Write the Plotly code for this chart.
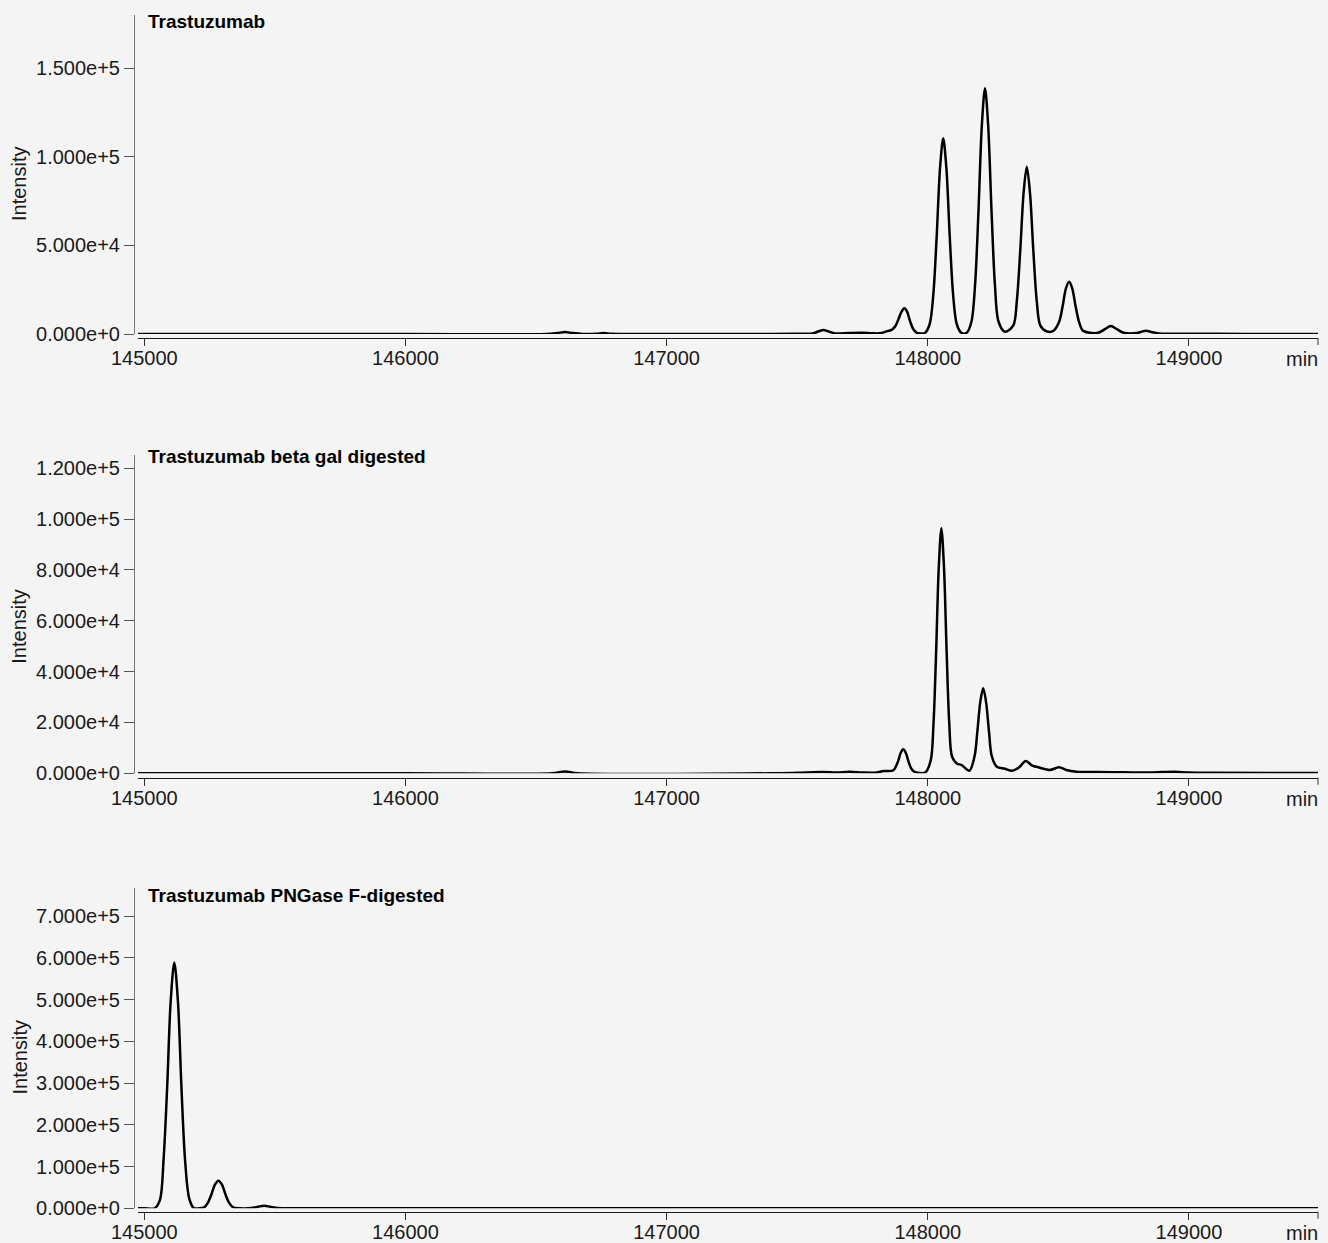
import plotly.graph_objects as go

# Deconvoluted intact-mass spectra, three samples (mass in Da vs. intensity)
titles = ["Trastuzumab", "Trastuzumab beta gal digested", "Trastuzumab PNGase F-digested"]

mass_intact = [
    144960, 145500, 146000, 146540, 146580, 146611, 146640, 146680, 146730, 146758,
    146790, 146850, 147400, 147500, 147560, 147580, 147600, 147620, 147645, 147700,
    147750, 147785, 147817, 147845, 147862, 147876, 147888, 147899, 147910, 147921,
    147932, 147944, 147958, 147975, 147989, 148007, 148021, 148034, 148047, 148059,
    148071, 148084, 148097, 148111, 148129, 148149, 148167, 148181, 148194, 148207,
    148219, 148231, 148244, 148257, 148271, 148295, 148327, 148341, 148354, 148367,
    148379, 148391, 148404, 148417, 148431, 148455, 148480, 148503, 148516, 148529,
    148541, 148553, 148566, 148579, 148593, 148620, 148655, 148678, 148701, 148724,
    148750, 148800, 148818, 148835, 148852, 148885, 148950, 149100, 149300, 149520,
]
int_intact = [
    0, 0, 0, 0, 500, 1100, 500, 0, 100, 600,
    100, 0, 0, 200, 300, 1400, 2300, 1400, 300, 600,
    700, 400, 400, 1600, 2300, 4500, 8500, 12500, 14500, 12500,
    7300, 2800, 600, 300, 600, 5500, 22000, 55000, 94000, 110400,
    94000, 55000, 22000, 5500, 600, 700, 6900, 27700, 69300, 118000,
    138650, 118000, 69300, 27700, 6900, 1300, 4700, 18900, 47200, 80000,
    94400, 80000, 47200, 18900, 4700, 1500, 1700, 6900, 15500, 25800,
    29500, 25800, 15500, 6900, 2000, 700, 800, 2700, 4500, 2700,
    700, 500, 1300, 1860, 1300, 300, 200, 100, 0, 0,
]

mass_betagal = [
    144960, 146000, 146560, 146611, 146660, 147400, 147500, 147600, 147650, 147700,
    147750, 147804, 147830, 147868, 147886, 147896, 147906, 147916, 147926, 147937,
    147950, 147990, 148011, 148022, 148032, 148042, 148052, 148062, 148072, 148082,
    148093, 148111, 148130, 148159, 148179, 148190, 148201, 148212, 148223, 148234,
    148245, 148264, 148295, 148323, 148350, 148375, 148400, 148423, 148450, 148468,
    148503, 148530, 148570, 148650, 148750, 148850, 148946, 149000, 149100, 149520,
]
int_betagal = [
    0, 0, 0, 700, 0, 0, 200, 500, 300, 600,
    300, 300, 900, 1200, 4700, 8000, 9440, 8000, 4700, 1800,
    600, 300, 5000, 20000, 48200, 81000, 96400, 81000, 48200, 20000,
    6500, 3900, 3200, 1000, 6700, 16700, 28100, 33450, 28100, 16700,
    6700, 2600, 1800, 1000, 2400, 4840, 3000, 2360, 1600, 1300,
    2360, 1300, 630, 500, 400, 300, 630, 300, 200, 100,
]

mass_pngase = [
    144940, 145000, 145040, 145060, 145074, 145088, 145101, 145115, 145129, 145142,
    145156, 145172, 145190, 145210, 145230, 145243, 145257, 145270, 145284, 145298,
    145311, 145325, 145340, 145365, 145410, 145435, 145459, 145483, 145510, 145560,
    146000, 147000, 148000, 149520,
]
int_pngase = [
    0, 0, 0, 20000, 118000, 295000, 495000, 589400, 495000, 295000,
    118000, 24000, 500, 0, 2500, 13000, 33000, 56000, 66200, 56000,
    33000, 13000, 2500, 0, 500, 3500, 6300, 3500, 500, 200,
    100, 0, 0, 0,
]

series = [(mass_intact, int_intact), (mass_betagal, int_betagal), (mass_pngase, int_pngase)]

x_ticks = [145000, 146000, 147000, 148000, 149000]
y_ticks = [
    [0, 50000, 100000, 150000],
    [0, 20000, 40000, 60000, 80000, 100000, 120000],
    [0, 100000, 200000, 300000, 400000, 500000, 600000, 700000],
]
y_ticktext = [
    ["0.000e+0", "5.000e+4", "1.000e+5", "1.500e+5"],
    ["0.000e+0", "2.000e+4", "4.000e+4", "6.000e+4", "8.000e+4", "1.000e+5", "1.200e+5"],
    ["0.000e+0", "1.000e+5", "2.000e+5", "3.000e+5", "4.000e+5", "5.000e+5", "6.000e+5", "7.000e+5"],
]
y_max = [180000, 125250, 767000]

# page geometry (pixels)
W, H = 1328, 1243
ML, MR, MT, MB = 134, 10, 15, 31
PW, PH = W - ML - MR, H - MT - MB


def fy(px):
    """pixel row -> paper fraction"""
    return (H - MB - px) / PH


def fx(px):
    return (px - ML) / PW


panel_top = [15, 455, 888.3]
panel_zero = [334, 773.3, 1208.3]
xaxis_px = [338, 777.7, 1211.7]
title_px = [21.5, 456, 895]
ylabel_px = [184, 626.7, 1057.5]

FONT = "Liberation Sans, Arial, Helvetica, sans-serif"
x_domain = [fx(138), 1]
x_range = [144976, 149494]

fig = go.Figure()
layout = dict(
    width=W, height=H,
    margin=dict(l=ML, r=MR, t=MT, b=MB, autoexpand=False),
    paper_bgcolor="#f4f4f4", plot_bgcolor="#f4f4f4",
    showlegend=False,
    font=dict(family=FONT, size=20, color="#1a1a1a"),
)
annotations = []
shapes = []

for i, (mx, iy) in enumerate(series):
    sfx = "" if i == 0 else str(i + 1)
    fig.add_trace(go.Scatter(
        x=mx, y=iy, mode="lines",
        line=dict(color="#000000", width=2.5, shape="spline", smoothing=0.9),
        xaxis="x" + sfx, yaxis="y" + sfx, hoverinfo="skip",
    ))
    layout["xaxis" + sfx] = dict(
        domain=x_domain, range=x_range, anchor="free", position=fy(xaxis_px[i]),
        automargin=False,
        showline=True, linecolor="#1a1a1a", linewidth=1,
        ticks="outside", ticklen=7, tickcolor="#333333", tickwidth=1,
        ticklabelstandoff=-5,
        tickvals=x_ticks, ticktext=[str(v) for v in x_ticks],
        showgrid=False, zeroline=False, tickfont=dict(size=20),
    )
    layout["yaxis" + sfx] = dict(
        domain=[fy(panel_zero[i]), fy(panel_top[i])], range=[0, y_max[i]],
        anchor="free", position=0, automargin=False,
        showline=True, linecolor="#777777", linewidth=1,
        ticks="outside", ticklen=10, tickcolor="#555555", tickwidth=1,
        tickvals=y_ticks[i], ticktext=y_ticktext[i],
        showgrid=False, zeroline=False, tickfont=dict(size=20),
    )
    # panel title
    annotations.append(dict(
        text="<b>" + titles[i] + "</b>", xref="paper", yref="paper",
        x=fx(146), y=fy(title_px[i]), xanchor="left", yanchor="middle",
        showarrow=False, font=dict(size=19, color="#000000"),
    ))
    # y-axis title
    annotations.append(dict(
        text="Intensity", xref="paper", yref="paper",
        x=fx(19), y=fy(ylabel_px[i]), xanchor="center", yanchor="middle",
        textangle=-90, showarrow=False, font=dict(size=20),
    ))
    # x-axis unit label at the right end
    annotations.append(dict(
        text="min", xref="paper", yref="paper",
        x=fx(1320), y=fy(xaxis_px[i] + 21), xanchor="right", yanchor="middle",
        showarrow=False, font=dict(size=20),
    ))
    # end tick of the x-axis domain
    shapes.append(dict(
        type="line", xref="paper", yref="paper",
        x0=1, x1=1, y0=fy(xaxis_px[i]), y1=fy(xaxis_px[i] + 7),
        line=dict(color="#333333", width=1),
    ))

layout["annotations"] = annotations
layout["shapes"] = shapes
fig.update_layout(**layout)
fig.write_html("out.html")
